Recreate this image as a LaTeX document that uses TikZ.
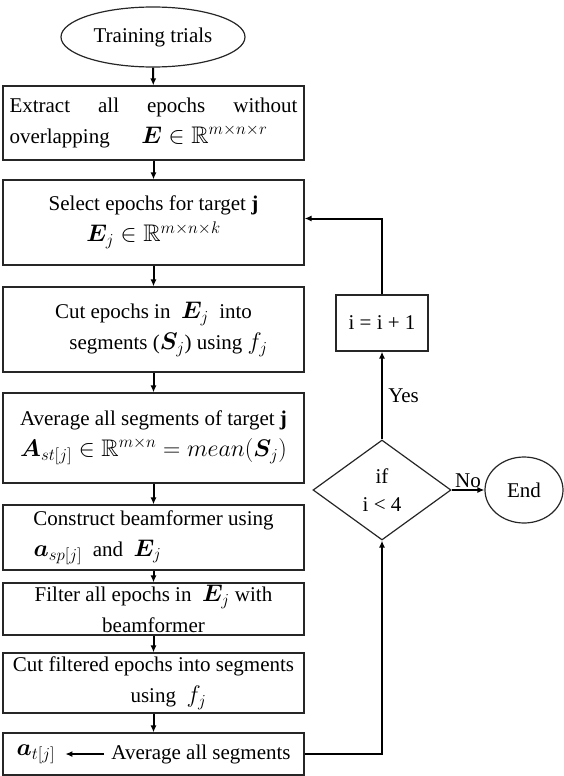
\documentclass[tikz,border=0pt]{standalone}
\usepackage{fix-cm}
\usepackage{amsmath,amssymb,bm}
\usepackage{fontspec}
\setmainfont{Liberation Serif}
\usetikzlibrary{shapes.geometric,arrows.meta}
\newcommand{\fs}{\fontsize{21}{31}\selectfont}
\newcommand{\mm}[1]{{\fontsize{24}{31}\selectfont$#1$}}
\begin{document}
\begin{tikzpicture}[x=1pt,y=-1pt,
  box/.style={draw=black!85, line width=1.2pt, minimum width=301pt, inner sep=0pt, align=center, font=\fs},
  plain/.style={inner sep=0pt, font=\fs},
  flow/.style={line width=2pt, -{Latex[length=7pt,width=6pt]}}]
\useasboundingbox (0,0) rectangle (563,776);
% start
\node[draw=black!85, line width=1.2pt, ellipse, minimum width=184pt, minimum height=60pt, inner sep=0pt, font=\fs] (tt) at (153,37) {Training trials};
% left column
\node[box, minimum height=74pt, align=left] (b1) at (153.5,123)
 {\makebox[288pt][s]{Extract all epochs without}\\overlapping\quad\ \ \mm{\bm{E}\in\mathbb{R}^{m\times n\times r}}};
\node[box, minimum height=85pt] (b2) at (153.5,222.5)
 {Select epochs for target \textbf{j}\\\mm{\bm{E}_j\in\mathbb{R}^{m\times n\times k}}};
\node[box, minimum height=85pt] (b3) at (153.5,329.5)
 {Cut epochs in \ \mm{\bm{E}_j} \ into\\\hspace*{30pt}segments (\mm{\bm{S}_j}) using \mm{f_j}};
\node[box, minimum height=90pt] (b4) at (153.5,438)
 {Average all segments of target \textbf{j}\\\mm{\bm{A}_{st[j]}\in\mathbb{R}^{m\times n}=mean(\bm{S}_j)}};
\node[box, minimum height=65pt] (b5) at (153.5,537.5)
 {Construct beamformer using\\\mm{\bm{a}_{sp[j]}}\ \ and\ \ \mm{\bm{E}_j}\hspace*{112pt}};
\node[box, minimum height=52pt] (b6) at (153.5,609)
 {Filter all epochs in \ \mm{\bm{E}_j} with\\beamformer};
\node[box, minimum height=60pt] (b7) at (153.5,683)
 {Cut filtered epochs into segments\\\hspace*{30pt}using \ \mm{f_j}};
\node[box, minimum height=42pt] (b8) at (153.5,754) {};
\node[plain] (at) at (36,754) {\mm{\bm{a}_{t[j]}}};
\node[plain] (avg) at (201,754) {Average all segments};
% right column
\node[draw=black!85, line width=1.2pt, minimum width=92pt, minimum height=56pt, inner sep=0pt, font=\fs] (inc) at (382,323) {i = i + 1};
\node[draw=black!85, line width=1.2pt, diamond, minimum width=138pt, minimum height=100pt, inner sep=0pt, align=center, font=\fontsize{21}{28}\selectfont] (dia) at (382,490) {if\\i < 4};
\node[draw=black!85, line width=1.2pt, ellipse, minimum width=78pt, minimum height=66pt, inner sep=0pt, font=\fs] (end) at (524,490) {End};
% connectors
\draw[flow] (tt) -- (b1);
\draw[flow] (b1) -- (b2);
\draw[flow] (b2) -- (b3);
\draw[flow] (b3) -- (b4);
\draw[flow] (b4) -- (b5);
\draw[flow] (b5) -- (b6);
\draw[flow] (b6) -- (b7);
\draw[flow] (b7) -- (b8);
\draw[line width=1.2pt, -{Latex[length=7pt,width=6pt]}] ([xshift=-7pt]avg.west) -- ([xshift=10pt]at.east);
\draw[flow] (b8.east) -| (dia.south);
\draw[flow] (dia.north) -- node[right, font=\fs, xshift=2pt] {Yes} (inc.south);
\draw[flow] (inc.north) |- ([yshift=4pt]b2.east);
\draw[flow] (dia.east) -- node[above, font=\fs, inner sep=1pt] {No} (end.west);
\end{tikzpicture}
\end{document}
